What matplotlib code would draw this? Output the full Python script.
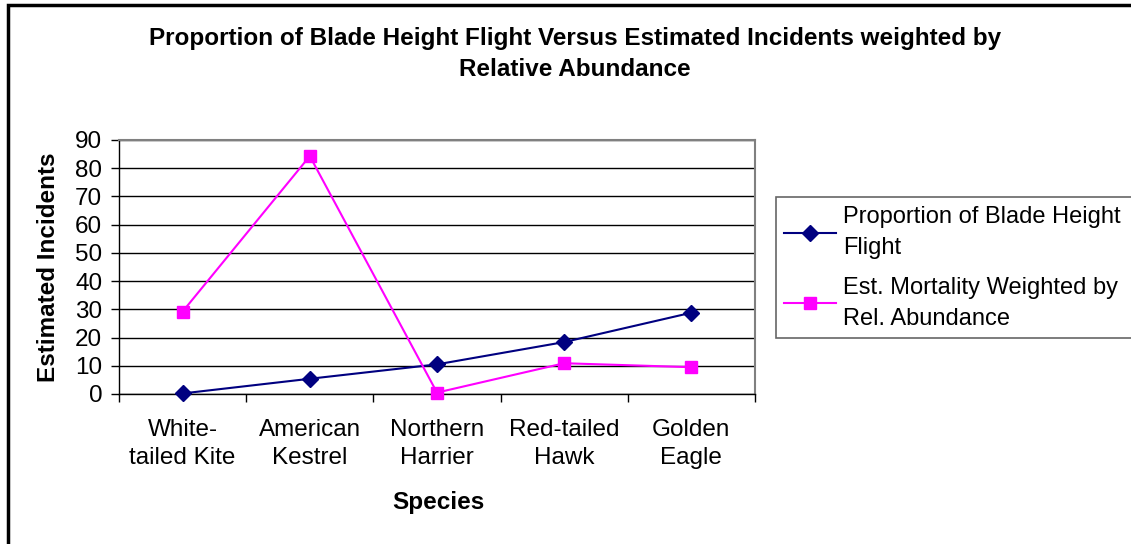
import matplotlib
matplotlib.use("Agg")
import matplotlib.pyplot as plt
from matplotlib.patches import Rectangle

plt.rcParams['font.family'] = ['Liberation Sans', 'DejaVu Sans']

categories = ["White-\ntailed Kite", "American\nKestrel", "Northern\nHarrier", "Red-tailed\nHawk", "Golden\nEagle"]
blade_height = [0.2, 5.4, 10.5, 18.4, 28.8]
est_mortality = [29.2, 84.3, 0.5, 10.9, 9.5]
series_labels = ["Proportion of Blade Height\nFlight", "Est. Mortality Weighted by\nRel. Abundance"]
title = "Proportion of Blade Height Flight Versus Estimated Incidents weighted by\nRelative Abundance"
yticks = list(range(0, 91, 10))

W, H = 1131, 544
FS = 17.5
fig = plt.figure(figsize=(W/100, H/100), dpi=100)
ax = fig.add_axes([119/W, 1-394/H, (755-119)/W, (394-140)/H])

x = list(range(len(categories)))
ax.plot(x, blade_height, color='#000080', marker='D', markersize=8, lw=1.5, label=series_labels[0], clip_on=False, zorder=3)
ax.plot(x, est_mortality, color='#FF00FF', marker='s', markersize=8.5, lw=1.5, label=series_labels[1], clip_on=False, zorder=3)

ax.set_xlim(-0.5, len(categories)-0.5)
ax.set_ylim(0, 90)
ax.set_yticks(yticks)
ax.yaxis.grid(True, color='black', lw=1)
ax.set_axisbelow(True)
ax.set_xticks(x)
ax.set_xticklabels(categories, fontsize=FS, linespacing=1.38)
ax.tick_params(axis='x', which='major', length=0, pad=18)
ax.set_xticks([i - 0.5 for i in range(len(categories)+1)], minor=True)
ax.tick_params(axis='x', which='minor', length=6, direction='out', width=1)
ax.tick_params(axis='y', length=6, direction='out', labelsize=FS, width=1, pad=6)
for s in ['left', 'bottom']:
    ax.spines[s].set_color('black')
    ax.spines[s].set_linewidth(1)
for s in ['top', 'right']:
    ax.spines[s].set_color('#808080')
    ax.spines[s].set_linewidth(1.5)

ax.set_ylabel("Estimated Incidents", fontsize=FS, fontweight='bold')
ax.yaxis.set_label_coords((60-119)/636, 0.5)
fig.text(438/W, 1-502/H, "Species", fontsize=FS, fontweight='bold', ha='center', va='center')
fig.text(575/W, 1-54/H, title, fontsize=FS, fontweight='bold', ha='center', va='center', linespacing=1.4)

leg = fig.legend(loc='upper left', bbox_to_anchor=(776/W, 1-198/H, 420/W, 0.001), mode='expand',
                 fontsize=17, frameon=True, fancybox=False, handlelength=2.2, handletextpad=0.3,
                 borderpad=0.35, labelspacing=0.75, borderaxespad=0)
for t in leg.get_texts():
    t.set_linespacing(1.54)
leg.get_frame().set_edgecolor('#404040')
leg.get_frame().set_linewidth(1.2)

fig.patches.append(Rectangle((8/W, -0.1), 1.2, 1-5/H+0.1, transform=fig.transFigure,
                             fill=False, edgecolor='black', lw=2.5))

fig.savefig("out.png", dpi=100)
